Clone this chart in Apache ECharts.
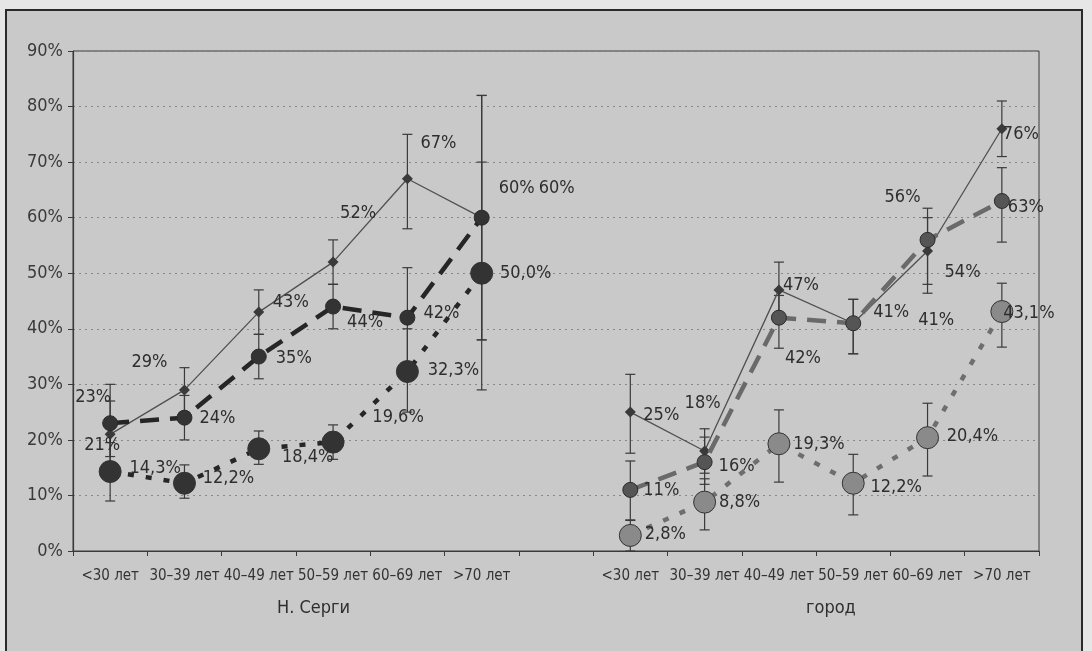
<!DOCTYPE html>
<html>
<head>
<meta charset="utf-8">
<script src="https://cdn.jsdelivr.net/npm/echarts@6/dist/echarts.min.js"></script>
<style>
  html, body { margin: 0; padding: 0; background: #e6e6e6; }
  #frame { position: absolute; left: 5px; top: 9px; width: 1078px; height: 660px; border: 2px solid #2a2a2a; background: #c9c9c9; box-sizing: border-box; }
  #chart { position: absolute; left: 0; top: 0; width: 1092px; height: 651px; }
</style>
</head>
<body>
<div id="frame"></div>
<div id="chart"></div>
<script>
// ---- data ----
const ageCategories = ['<30 лет', '30–39 лет', '40–49 лет', '50–59 лет', '60–69 лет', '>70 лет'];
const groupNames = ['Н. Серги', 'город'];
const yTicks = [0, 10, 20, 30, 40, 50, 60, 70, 80, 90];

const sergiSolid  = [21, 29, 43, 52, 67, 60];
const sergiDashed = [23, 24, 35, 44, 42, 60];
const sergiDotted = [14.3, 12.2, 18.4, 19.6, 32.3, 50.0];
const gorodSolid  = [25, 18, 47, 41, 54, 76];
const gorodDashed = [11, 16, 42, 41, 56, 63];
const gorodDotted = [2.8, 8.8, 19.3, 12.2, 20.4, 43.1];

const sergiSolidLow   = [16, 25, 39, 48, 58, 38];
const sergiSolidHigh  = [27, 33, 47, 56, 75, 82];
const sergiDashedLow  = [17, 20, 31, 40, 33, 38];
const sergiDashedHigh = [30, 28, 39, 48, 51, 82];
const sergiDottedLow  = [9, 9.5, 15.6, 16.5, 25, 29];
const sergiDottedHigh = [19.5, 15.5, 21.6, 22.7, 40, 70];
const gorodSolidLow   = [17.6, 14, 42, 35.5, 46.4, 71];
const gorodSolidHigh  = [31.8, 22, 52, 45.3, 61.7, 81];
const gorodDashedLow  = [5.6, 12, 36.5, 35.5, 48, 55.6];
const gorodDashedHigh = [16.2, 20.5, 46, 45.3, 60, 69];
const gorodDottedLow  = [0, 3.8, 12.4, 6.5, 13.5, 36.7];
const gorodDottedHigh = [5.5, 13, 25.4, 17.4, 26.6, 48.2];

// ---- label placement (style) ----
const offSergiSolid  = [[-8, 11], [-35, -28], [32, -10], [25, -49], [31, -35], [35, -29]];
const offSergiDashed = [[-17, -26], [33, 1], [35, 2], [32, 16], [34, -4], [75, -29]];
const offSergiDotted = [[45, -3], [44, -5], [49, 9], [65, -25], [46, -1], [44, 0]];
const offGorodSolid  = [[31, 3], [-2, -48], [22, -5], [38, -11], [35, 21], [19, 6]];
const offGorodDashed = [[31, 0], [32, 4], [24, 41], [83, -3], [-25, -43], [24, 6]];
const offGorodDotted = [[35, -1], [35, 0], [40, 1], [43, 4], [45, -1], [27, 2]];

const FONT = '"Liberation Sans Narrow", "DejaVu Sans Condensed", "Arial Narrow", sans-serif';
const GAP = 1; // one empty slot between the groups
const allCats = ageCategories.concat(Array(GAP).fill('')).concat(ageCategories);
const g2Start = ageCategories.length + GAP;

function fmt(decimals) {
  return p => p.value.toFixed(decimals).replace('.', ',') + '%';
}
function lineData(vals, offs, start) {
  const arr = Array(allCats.length).fill(null);
  vals.forEach((v, i) => { arr[start + i] = { value: v, label: { offset: offs[i] } }; });
  return arr;
}
function errData(lows, highs, start) {
  return lows.map((lo, i) => [start + i, lo, highs[i]]);
}

function errSeries(data) {
  return {
    type: 'custom', z: 1, silent: true,
    encode: { x: 0, y: [1, 2] },
    data: data,
    renderItem: function (params, api) {
      const x = api.value(0);
      const lo = api.coord([x, api.value(1)]);
      const hi = api.coord([x, api.value(2)]);
      const w = 5;
      const st = { stroke: '#3a3a3a', lineWidth: 1.2 };
      return { type: 'group', children: [
        { type: 'line', shape: { x1: lo[0], y1: lo[1], x2: hi[0], y2: hi[1] }, style: st },
        { type: 'line', shape: { x1: lo[0] - w, y1: lo[1], x2: lo[0] + w, y2: lo[1] }, style: st },
        { type: 'line', shape: { x1: hi[0] - w, y1: hi[1], x2: hi[0] + w, y2: hi[1] }, style: st }
      ]};
    }
  };
}

const labelBase = { show: true, position: 'inside', fontFamily: FONT, fontSize: 18, color: '#2e2e2e' };

function solid(vals, offs, start) {
  return { type: 'line', z: 3, data: lineData(vals, offs, start), connectNulls: false,
    symbol: 'diamond', symbolSize: 11,
    lineStyle: { color: '#505050', width: 1.3 },
    itemStyle: { color: '#3a3a3a' },
    label: Object.assign({}, labelBase, { formatter: fmt(0) }) };
}
function dashed(vals, offs, start, lineColor, markColor) {
  return { type: 'line', z: 4, data: lineData(vals, offs, start), connectNulls: false,
    symbol: 'circle', symbolSize: 15,
    lineStyle: { color: lineColor, width: 4.5, type: [19, 11] },
    itemStyle: { color: markColor, borderColor: '#2a2a2a', borderWidth: 1 },
    label: Object.assign({}, labelBase, { formatter: fmt(0) }) };
}
function dotted(vals, offs, start, lineColor, markColor) {
  return { type: 'line', z: 5, data: lineData(vals, offs, start), connectNulls: false,
    symbol: 'circle', symbolSize: 22,
    lineStyle: { color: lineColor, width: 4.5, type: [6, 12] },
    itemStyle: { color: markColor, borderColor: '#333', borderWidth: 1 },
    label: Object.assign({}, labelBase, { formatter: fmt(1) }) };
}

const chart = echarts.init(document.getElementById('chart'));
chart.setOption({
  backgroundColor: 'transparent',
  animation: false,
  grid: { left: 73, right: 53, top: 51, bottom: 100, show: true, borderColor: '#3a3a3a', borderWidth: 1 },
  xAxis: {
    type: 'category', data: allCats, boundaryGap: true,
    axisLine: { lineStyle: { color: '#3a3a3a', width: 1.2 } },
    axisTick: { show: true, length: 5, lineStyle: { color: '#3a3a3a' } },
    axisLabel: { interval: 0, margin: 18, fontFamily: FONT, fontSize: 15, color: '#333' },
    splitLine: { show: false }
  },
  yAxis: {
    type: 'value', min: yTicks[0], max: yTicks[yTicks.length - 1], interval: yTicks[1] - yTicks[0],
    axisLine: { show: true, lineStyle: { color: '#3a3a3a', width: 1.2 } },
    axisTick: { show: true, length: 5, lineStyle: { color: '#3a3a3a' } },
    axisLabel: { formatter: '{value}%', margin: 10, fontFamily: FONT, fontSize: 18, color: '#3a3a3a' },
    splitLine: { show: true, lineStyle: { color: '#888', type: [2, 4], width: 1 } }
  },
  graphic: [
    { type: 'text', left: 277, top: 599, style: { text: groupNames[0], fontFamily: FONT, fontSize: 18, fill: '#2e2e2e' } },
    { type: 'text', left: 806, top: 599, style: { text: groupNames[1], fontFamily: FONT, fontSize: 18, fill: '#2e2e2e' } }
  ],
  series: [
    errSeries(errData(sergiSolidLow, sergiSolidHigh, 0)),
    errSeries(errData(sergiDashedLow, sergiDashedHigh, 0)),
    errSeries(errData(sergiDottedLow, sergiDottedHigh, 0)),
    errSeries(errData(gorodSolidLow, gorodSolidHigh, g2Start)),
    errSeries(errData(gorodDashedLow, gorodDashedHigh, g2Start)),
    errSeries(errData(gorodDottedLow, gorodDottedHigh, g2Start)),
    solid(sergiSolid, offSergiSolid, 0),
    dashed(sergiDashed, offSergiDashed, 0, '#262626', '#333'),
    dotted(sergiDotted, offSergiDotted, 0, '#262626', '#333'),
    solid(gorodSolid, offGorodSolid, g2Start),
    dashed(gorodDashed, offGorodDashed, g2Start, '#6a6a6a', '#555'),
    dotted(gorodDotted, offGorodDotted, g2Start, '#6e6e6e', '#8a8a8a')
  ]
});
</script>
</body>
</html>
